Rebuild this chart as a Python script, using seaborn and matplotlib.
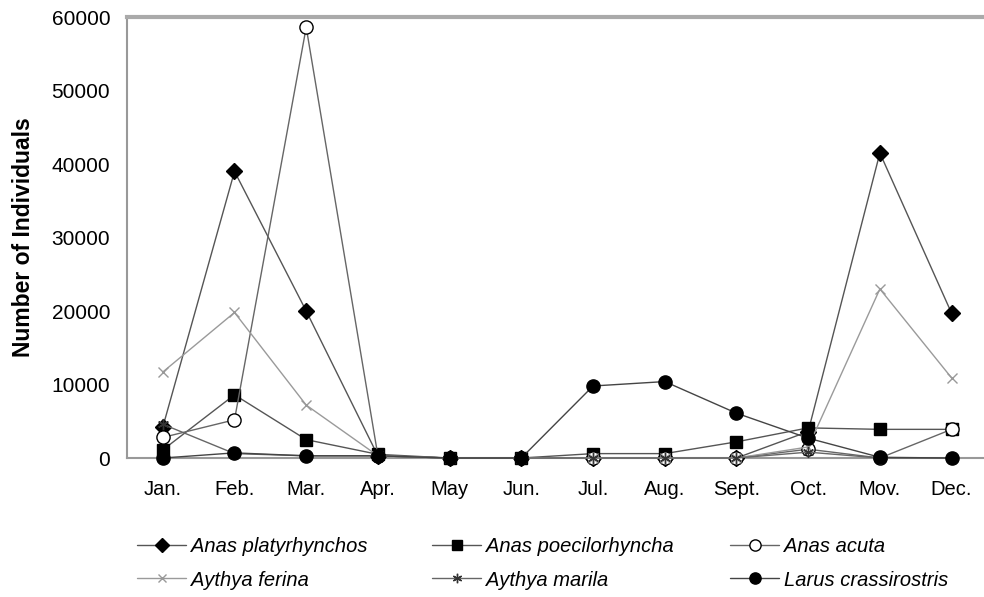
import numpy as np
import pandas as pd
import matplotlib
matplotlib.use("Agg")
import matplotlib.pyplot as plt
import seaborn as sns

sns.set_theme(style="white")
plt.rcParams['font.family'] = ['Liberation Sans', 'DejaVu Sans']
plt.rcParams['text.color'] = 'black'
plt.rcParams['axes.labelcolor'] = 'black'

months = ["Jan.", "Feb.", "Mar.", "Apr.", "May", "Jun.", "Jul.", "Aug.",
          "Sept.", "Oct.", "Mov.", "Dec."]
species = ["Anas platyrhynchos", "Anas poecilorhyncha", "Anas acuta",
           "Aythya ferina", "Aythya marila", "Larus crassirostris"]

platyrhynchos = [4200, 39000, 20000, 300, 0, 0, 0, 0, 0, 3600, 41500, 19700]
poecilorhyncha = [1100, 8600, 2500, 500, 0, 0, 600, 600, 2200, 4100, 3900, 3900]
acuta = [2800, 5200, 58600, 300, 0, 0, 0, 0, 0, 1200, 0, 3900]
ferina = [11700, 19800, 7200, 300, 0, 0, 0, 0, 0, 1500, 23000, 10900]
marila = [4600, 600, 300, 300, 0, 0, 0, 0, 0, 800, 0, 0]
crassirostris = [0, 700, 300, 300, 0, 0, 9800, 10400, 6100, 2700, 100, 0]

values = [platyrhynchos, poecilorhyncha, acuta, ferina, marila, crassirostris]

styles = {
    "Anas platyrhynchos": dict(marker="D", ms=8, mfc="black", mec="black", color="#555555"),
    "Anas poecilorhyncha": dict(marker="s", ms=9, mfc="black", mec="black", color="#555555"),
    "Anas acuta": dict(marker="o", ms=9.5, mfc="white", mec="black", color="#666666"),
    "Aythya ferina": dict(marker="x", ms=7, mfc="#999999", mec="#999999", color="#9a9a9a"),
    "Aythya marila": dict(marker=(6, 2, 0), ms=8, mfc="#333333", mec="#333333", color="#666666"),
    "Larus crassirostris": dict(marker="o", ms=9.5, mfc="black", mec="black", color="#444444"),
}

fig = plt.figure(figsize=(9.84, 5.97), dpi=100)
ax = fig.add_axes([0.129, 0.2328, 0.8745, 0.7387])

x = np.arange(len(months))
handles = {}
for name, vals in zip(species, values):
    st = styles[name]
    sns.lineplot(x=x, y=vals, ax=ax, color=st["color"], linewidth=1.0,
                 marker=st["marker"], markersize=st["ms"],
                 markerfacecolor=st["mfc"], markeredgecolor=st["mec"],
                 markeredgewidth=1.0, clip_on=False, zorder=3)
    handles[name] = ax.lines[-1]

ax.set_xlim(-0.5, 11.5)
ax.set_ylim(0, 60000)
ax.set_yticks(np.arange(0, 60001, 10000))
ax.set_xticks(x)
ax.set_xticklabels(months)
ax.set_xticks(x[:-1] + 0.5, minor=True)
ax.tick_params(axis="x", which="major", length=0, pad=16, labelsize=14.5, labelcolor="black")
ax.tick_params(axis="x", which="minor", length=4, direction="in", color="#999999")
ax.tick_params(axis="y", length=3, direction="in", color="#999999", pad=12,
               labelsize=15, labelcolor="black")
ax.set_ylabel("Number of Individuals", fontsize=16.5, fontweight="bold",
              labelpad=12, color="black")
ax.set_xlabel("")

for s in ["left", "bottom"]:
    ax.spines[s].set_color("#999999")
    ax.spines[s].set_linewidth(1.5)
ax.spines["top"].set_color("#aaaaaa")
ax.spines["top"].set_linewidth(3)
ax.spines["right"].set_visible(False)

# legend: three columns, two rows each
cols = [("Anas platyrhynchos", "Aythya ferina"),
        ("Anas poecilorhyncha", "Aythya marila"),
        ("Anas acuta", "Larus crassirostris")]
xpos = [137, 432, 730]
for (a, b), xp in zip(cols, xpos):
    leg = fig.legend([handles[a], handles[b]], [a, b], loc="upper left",
                     bbox_to_anchor=(xp / 984, 1 - 537 / 597), frameon=False,
                     prop=dict(family="Liberation Sans", style="italic", size=14.5),
                     handlelength=2.45, handletextpad=0.25, labelspacing=0.72,
                     markerscale=0.85, borderpad=0, borderaxespad=0)

fig.savefig("out.png", dpi=100)
